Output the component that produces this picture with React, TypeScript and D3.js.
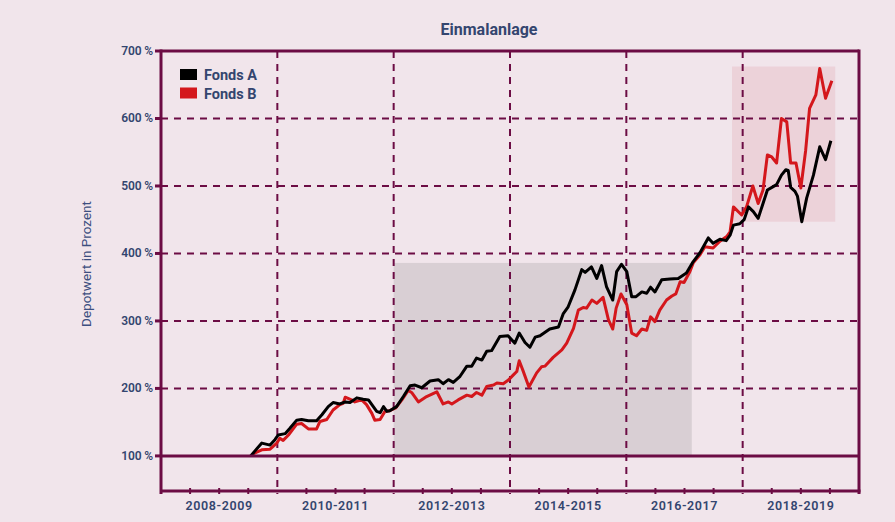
import React from "react";
import * as d3 from "d3";

// months since Jan 2008
const fondsAMonths = [18.5,20.8,22.5,23.5,24.2,25.6,26.6,28.0,29.0,30.4,32.1,33.2,34.5,35.5,36.9,38.0,39.0,40.4,41.7,42.8,43.5,44.5,45.2,45.9,46.6,47.2,48.6,50.0,51.4,52.4,53.8,55.5,57.2,58.2,59.3,60.3,61.7,63.1,64.1,65.1,66.2,67.2,68.2,69.9,71.6,73.0,73.9,75.1,76.1,77.2,78.2,80.2,82.0,83.0,84.0,85.4,86.8,87.5,88.8,89.9,90.9,91.9,93.2,94.0,95.0,96.1,97.1,98.0,99.2,100.2,101.0,101.9,103.3,105.0,106.7,108.4,109.8,111.2,112.9,113.9,115.3,116.6,117.4,118.1,119.4,120.3,121.2,122.2,123.2,125.1,126.3,127.0,128.0,128.9,129.4,129.9,130.8,131.3,132.2,133.2,134.6,135.9,137.1,138.2];
const fondsAValues = [100,119,116,124,131,133,141,153,154,152,152,161,173,179,177,180,179,186,184,183,176,166,164,173,166,167,173,188,204,205,201,211,213,207,213,209,218,233,233,245,242,255,256,277,278,267,282,268,261,276,278,288,291,311,321,346,376,372,380,363,382,351,331,373,384,373,336,336,343,341,350,343,361,362,363,371,388,401,423,415,421,419,427,442,444,450,469,462,452,494,499,502,516,524,523,498,492,485,447,482,516,558,539,567];

const fondsBMonths = [19.0,20.8,22.5,23.9,24.5,25.2,26.3,28.0,29.0,30.4,32.1,32.8,34.2,35.5,36.9,37.6,38.0,39.3,40.0,41.4,42.4,43.5,44.1,45.2,46.2,47.2,48.4,49.7,51.0,51.7,53.1,54.8,56.9,58.2,59.3,60.0,61.3,63.1,64.1,65.1,66.2,67.2,68.6,69.3,70.6,71.6,72.7,73.4,73.9,74.7,75.9,77.5,78.5,79.2,80.9,82.7,83.7,85.1,86.1,87.1,87.8,88.9,89.9,91.2,92.3,93.2,93.9,94.9,96.1,97.1,98.1,99.2,100.2,101.0,101.9,102.9,104.3,105.4,106.2,107.1,107.9,109.1,109.8,111.2,112.2,113.9,115.3,116.7,117.4,118.1,119.8,120.8,122.1,123.2,124.2,125.1,126.0,127.0,128.0,129.1,129.9,131.0,132.0,133.0,133.8,135.1,135.9,137.1,138.4];
const fondsBValues = [103,109,110,119,126,123,131,147,148,140,140,151,154,168,176,178,187,183,180,183,176,163,153,154,166,167,171,183,197,194,180,188,195,177,180,177,183,190,188,194,190,203,205,208,207,212,220,225,241,226,202,223,232,233,246,257,267,289,316,320,319,331,326,335,302,288,319,340,324,282,278,288,286,306,299,316,331,337,340,358,357,373,386,398,410,408,418,425,432,469,457,469,500,474,494,546,543,534,600,595,534,534,497,553,615,635,674,630,656];

const periodLabels = ["2008-2009","2010-2011","2012-2013","2014-2015","2016-2017","2018-2019"];
const yTicks = [100,200,300,400,500,600,700];
const seriesNames = ["Fonds A","Fonds B"];
const seriesColors = ["#000000","#d4171c"];
// highlight boxes: [startMonth, endMonth, lowValue, highValue]
const grayBox = [48, 109.5, 100, 386];
const pinkBox = [117.8, 139.1, 447, 677];

const W = 895, H = 522;
const L = 161, R = 859, T = 51, B = 491;
const AXIS = "#6c0c44";
const TXT = "#34456f";
const FONT = "Roboto, 'Open Sans', sans-serif";

export default function App() {
  const x = d3.scaleLinear().domain([0, 144]).range([L, R]);
  const y = d3.scaleLinear().domain([48, 700]).range([B, T]);
  const line = d3.line<[number, number]>().x(d => x(d[0])).y(d => y(d[1]));
  const dataA = fondsAMonths.map((m, i) => [m, fondsAValues[i]] as [number, number]);
  const dataB = fondsBMonths.map((m, i) => [m, fondsBValues[i]] as [number, number]);
  const halfYears = d3.range(6, 144, 6).filter(m => m % 24 !== 0);
  const periodEdges = d3.range(24, 144, 24);

  return (
    <svg width={W} height={H} style={{ position: "absolute", left: 0, top: 0 }} fontFamily={FONT}>
      <rect x={0} y={0} width={W} height={H} fill="#f1e5eb" />
      <text x={489} y={34.5} textAnchor="middle" fontSize={16} fontWeight={700} fill={TXT}>Einmalanlage</text>

      <rect x={x(grayBox[0])} y={y(grayBox[3])} width={x(grayBox[1]) - x(grayBox[0])} height={y(grayBox[2]) - y(grayBox[3])} fill="#d9cfd4" />
      <rect x={x(pinkBox[0])} y={y(pinkBox[3])} width={x(pinkBox[1]) - x(pinkBox[0])} height={y(pinkBox[2]) - y(pinkBox[3])} fill="#ecd2d9" />

      {/* horizontal dashed grid */}
      {yTicks.filter(v => v !== 100 && v !== 700).map(v => (
        <line key={v} x1={L} x2={R} y1={y(v)} y2={y(v)} stroke={AXIS} strokeWidth={2} strokeDasharray="7,6" />
      ))}
      {/* vertical dashed grid */}
      {periodEdges.map(m => (
        <line key={m} x1={x(m)} x2={x(m)} y1={T} y2={B + 3} stroke={AXIS} strokeWidth={2} strokeDasharray="7,6" />
      ))}

      {/* lines */}
      <path d={line(dataB) || ""} fill="none" stroke={seriesColors[1]} strokeWidth={3} strokeLinejoin="round" />
      <path d={line(dataA) || ""} fill="none" stroke={seriesColors[0]} strokeWidth={3} strokeLinejoin="round" />

      {/* frame */}
      <line x1={L} x2={R} y1={y(100)} y2={y(100)} stroke={AXIS} strokeWidth={3} />
      <line x1={L} x2={R} y1={T} y2={T} stroke={AXIS} strokeWidth={3} />
      <line x1={L} x2={R + 1.5} y1={B} y2={B} stroke={AXIS} strokeWidth={3} />
      <line x1={L} x2={L} y1={T - 1.5} y2={B + 3} stroke={AXIS} strokeWidth={3} />
      <line x1={R} x2={R} y1={T - 1.5} y2={B + 3} stroke={AXIS} strokeWidth={3} />

      {/* ticks */}
      {halfYears.map(m => (
        <line key={m} x1={x(m)} x2={x(m)} y1={B - 3} y2={B + 3} stroke={AXIS} strokeWidth={2} />
      ))}
      {yTicks.map(v => (
        <g key={v}>
          <line x1={L - 6} x2={L} y1={y(v)} y2={y(v)} stroke={AXIS} strokeWidth={3} />
          <text x={153} y={y(v) + 4} textAnchor="end" fontSize={12} fontWeight={600} fill={TXT}>{`${v}\u2009%`}</text>
        </g>
      ))}
      {periodLabels.map((lab, i) => (
        <text key={lab} x={x(i * 24 + 12)} y={510} textAnchor="middle" fontSize={12.5} fontWeight={600} letterSpacing={0.6} fill={TXT}>{lab}</text>
      ))}

      <text transform={`translate(91,264) rotate(-90)`} textAnchor="middle" fontSize={13.5} fill="#3d4f80">Depotwert in Prozent</text>

      {/* legend */}
      {seriesNames.map((n, i) => (
        <g key={n}>
          <rect x={180} y={69 + i * 18.5} width={17} height={11} fill={seriesColors[i]} />
          <text x={204} y={80 + i * 18.5} fontSize={14.5} fontWeight={700} fill={TXT}>{n}</text>
        </g>
      ))}
    </svg>
  );
}
